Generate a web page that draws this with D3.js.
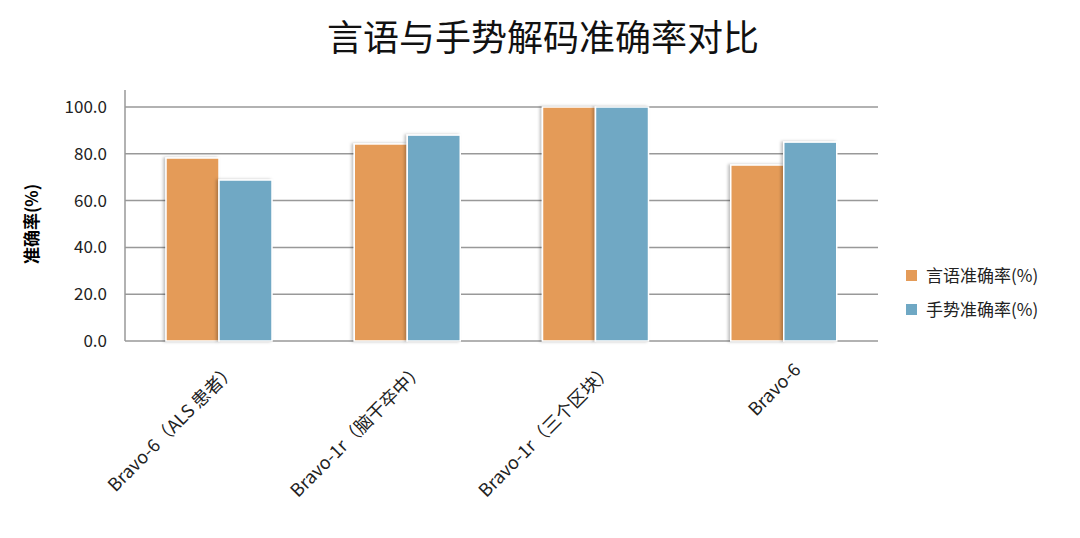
<!DOCTYPE html><html><head><meta charset="utf-8"><script src="https://cdn.jsdelivr.net/npm/d3@7"></script>
<style>body{margin:0;background:#fff}text{font-family:"Noto Sans CJK SC","Open Sans",sans-serif}</style></head><body><svg id="c" width="1080" height="538"></svg><script>
const categories=["Bravo-6（ALS 患者）","Bravo-1r（脑干卒中）","Bravo-1r（三个区块）","Bravo-6"];
const seriesNames=["言语准确率(%)","手势准确率(%)"];
const speech=[78.2,84.2,100,75.2];
const gesture=[68.8,88,100,85];
const yTicks=[0,20,40,60,80,100];
const colors=["#E49B58","#6FA8C4"];
const svg=d3.select("#c");
const L=125,R=878,T=107,B=341;
const x=d3.scaleBand().domain(categories).range([L,R]);
const y=d3.scaleLinear().domain([0,100]).range([B,T]);
svg.append("text").attr("x",543).attr("y",51).attr("text-anchor","middle").attr("font-size",36).attr("fill","#111").text("言语与手势解码准确率对比");
svg.append("g").selectAll("line").data(yTicks).join("line").attr("x1",L).attr("x2",R).attr("y1",d=>y(d)).attr("y2",d=>y(d)).attr("stroke","#999").attr("stroke-width",1.5);
svg.append("line").attr("x1",L).attr("x2",L).attr("y1",T-17).attr("y2",B).attr("stroke","#999").attr("stroke-width",1.5);
svg.append("g").selectAll("text").data(yTicks).join("text").attr("x",L-18).attr("y",d=>y(d)+6).attr("text-anchor","end").attr("font-size",17).attr("fill","#222").text(d=>d.toFixed(1));
svg.append("text").attr("transform","translate(38,224) rotate(-90)").attr("text-anchor","middle").attr("font-size",17).attr("font-weight","bold").attr("font-family","Noto Serif CJK SC,serif").text("准确率(%)");
const defs=svg.append("defs");
defs.append("filter").attr("id","sh").html('<feDropShadow dx="-2" dy="0" stdDeviation="1.5" flood-color="#000" flood-opacity="0.25"/>');
const bw=53,off=[41,94];
[speech,gesture].forEach((s,i)=>{
 svg.append("g").selectAll("rect").data(s).join("rect").attr("x",(d,j)=>x(categories[j])+off[i]).attr("width",bw).attr("y",d=>y(d)).attr("height",d=>B-y(d)).attr("fill",colors[i]).attr("stroke","#fff").attr("stroke-width",1.5).attr("filter","url(#sh)");
});
svg.append("g").selectAll("text").data(categories).join("text").attr("transform",d=>`translate(${x(d)+x.bandwidth()/2+18},${B+30}) rotate(-45)`).attr("text-anchor","end").attr("font-size",18).attr("fill","#222").text(d=>d);
const lg=svg.append("g").selectAll("g").data(seriesNames).join("g").attr("transform",(d,i)=>`translate(906,${271+i*34})`);
lg.append("rect").attr("width",11).attr("height",11).attr("y",-1).attr("fill",(d,i)=>colors[i]);
lg.append("text").attr("x",20).attr("y",11).attr("font-size",17).attr("fill","#222").text(d=>d);
</script></body></html>
